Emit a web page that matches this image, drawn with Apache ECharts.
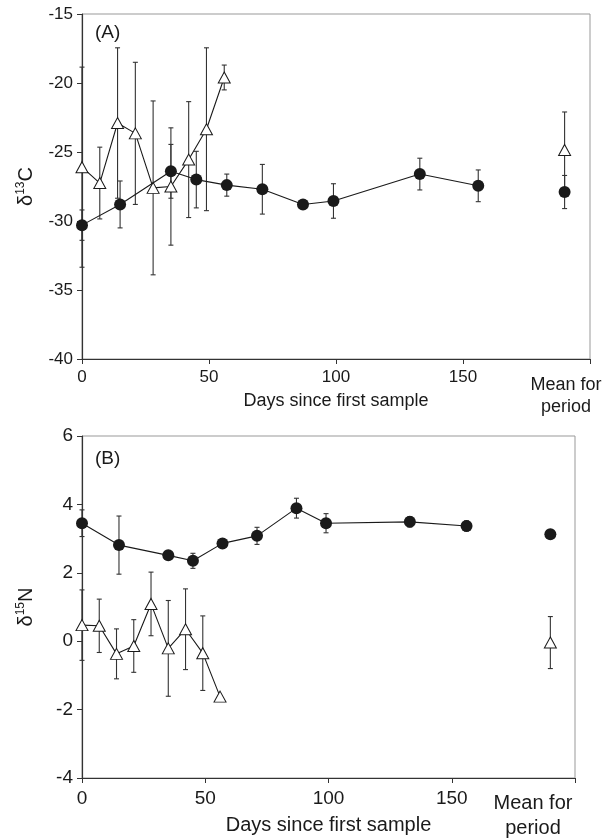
<!DOCTYPE html>
<html>
<head>
<meta charset="utf-8">
<script src="https://cdn.jsdelivr.net/npm/echarts@6/dist/echarts.min.js"></script>
<style>
  html, body { margin: 0; padding: 0; background: #fff; }
  #main { width: 612px; height: 839px; }
</style>
</head>
<body>
<div id="main"></div>
<script>
// days of sampling
var daysCircle = [0, 15, 35, 45, 57, 71, 87, 99, 133, 156];
var daysTri = [0, 7, 14, 21, 28, 35, 42, 49, 56];
var meanDay = 190;

// panel A, d13C
var carbonCircle = [-30.3, -28.8, -26.4, -27.0, -27.4, -27.7, -28.8, -28.55, -26.6, -27.45];
var carbonCircleErr = [1.1, 1.7, 1.95, 2.05, 0.8, 1.8, 0, 1.25, 1.15, 1.15];
var carbonTri = [-26.1, -27.25, -22.9, -23.65, -27.6, -27.5, -25.55, -23.35, -19.6];
var carbonTriErr = [7.25, 2.6, 5.45, 5.15, 6.3, 4.25, 4.2, 5.9, 0.9];
var carbonMeanCircle = [-27.9, 1.2];
var carbonMeanTri = [-24.85, 2.75];

// panel B, d15N
var nitroCircle = [3.45, 2.81, 2.51, 2.35, 2.86, 3.08, 3.89, 3.45, 3.49, 3.37];
var nitroCircleErr = [0.39, 0.85, 0, 0.22, 0, 0.25, 0.29, 0.28, 0.15, 0.15];
var nitroTri = [0.47, 0.45, -0.37, -0.14, 1.09, -0.21, 0.35, -0.35, -1.62];
var nitroTriErr = [1.03, 0.78, 0.73, 0.77, 0.93, 1.4, 1.18, 1.09, 0];
var nitroMeanCircle = [3.13, 0.1];
var nitroMeanTri = [-0.04, 0.76];

var FONT = 'Liberation Sans, Arial, sans-serif';
var INK = '#1a1a1a';

function pairs(xs, ys) {
  return xs.map(function (x, i) { return [x, ys[i]]; });
}
function errData(xs, ys, es) {
  var out = [];
  xs.forEach(function (x, i) {
    if (es[i] > 0) out.push([x, ys[i] - es[i], ys[i] + es[i]]);
  });
  return out;
}

function renderErr(params, api) {
  var hi = api.coord([api.value(0), api.value(2)]);
  var lo = api.coord([api.value(0), api.value(1)]);
  var w = 2.5;
  var st = { stroke: '#333', lineWidth: 1.1 };
  return {
    type: 'group',
    children: [
      { type: 'line', shape: { x1: hi[0], y1: hi[1], x2: lo[0], y2: lo[1] }, style: st },
      { type: 'line', shape: { x1: hi[0] - w, y1: hi[1], x2: hi[0] + w, y2: hi[1] }, style: st },
      { type: 'line', shape: { x1: lo[0] - w, y1: lo[1], x2: lo[0] + w, y2: lo[1] }, style: st }
    ]
  };
}

function errSeries(idx, data) {
  return {
    type: 'custom', xAxisIndex: idx, yAxisIndex: idx,
    renderItem: renderErr, data: data, z: 1,
    encode: { x: 0, y: [1, 2] }, silent: true
  };
}

var circleStyle = { color: INK, opacity: 1 };
var triStyle = { color: '#fff', borderColor: INK, borderWidth: 1, opacity: 1 };

function panelSeries(idx, yc, ec, yt, et, mc, mt) {
  return [
    errSeries(idx, errData(daysCircle, yc, ec)
      .concat(errData(daysTri, yt, et))
      .concat(errData([meanDay], [mc[0]], [mc[1]]))
      .concat(errData([meanDay], [mt[0]], [mt[1]]))),
    {
      type: 'line', xAxisIndex: idx, yAxisIndex: idx, data: pairs(daysTri, yt),
      symbol: 'triangle', symbolSize: [12, 11], itemStyle: triStyle,
      lineStyle: { color: INK, width: 1.1 }, z: 2
    },
    {
      type: 'line', xAxisIndex: idx, yAxisIndex: idx, data: pairs(daysCircle, yc),
      symbol: 'circle', symbolSize: 12, itemStyle: circleStyle,
      lineStyle: { color: INK, width: 1.1 }, z: 3
    },
    {
      type: 'scatter', xAxisIndex: idx, yAxisIndex: idx, data: [[meanDay, mt[0]]],
      symbol: 'triangle', symbolSize: [12, 11], itemStyle: triStyle, z: 2
    },
    {
      type: 'scatter', xAxisIndex: idx, yAxisIndex: idx, data: [[meanDay, mc[0]]],
      symbol: 'circle', symbolSize: 12, itemStyle: circleStyle, z: 3
    }
  ];
}

function xAxisCfg(idx, fs, nfs, gap, lblMargin) {
  return {
    type: 'value', gridIndex: idx, min: 0, max: 200, interval: 50,
    name: 'Days since first sample', nameLocation: 'middle', nameGap: gap,
    nameTextStyle: { fontFamily: FONT, fontSize: nfs, color: INK },
    axisLine: { onZero: false, lineStyle: { color: '#333', width: 1.2 } },
    axisTick: { length: 5, lineStyle: { color: '#333' } },
    axisLabel: {
      fontFamily: FONT, fontSize: fs, color: INK, margin: lblMargin,
      formatter: function (v) { return v === 200 ? '' : String(v); }
    },
    splitLine: { show: false }
  };
}

function yAxisCfg(idx, min, max, step, fs, nameRich, gap) {
  return {
    type: 'value', gridIndex: idx, min: min, max: max, interval: step,
    name: nameRich.text, nameLocation: 'middle', nameGap: gap, nameRotate: 90,
    nameTextStyle: { fontFamily: FONT, color: INK, rich: nameRich.rich },
    axisLine: { onZero: false, lineStyle: { color: '#333', width: 1.2 } },
    axisTick: { length: 5, lineStyle: { color: '#333' } },
    axisLabel: { fontFamily: FONT, fontSize: fs, color: INK, margin: 9 },
    splitLine: { show: false }
  };
}

function deltaName(iso, el, size) {
  return {
    text: '{d|δ}{s|' + iso + '}{d|' + el + '}',
    rich: {
      d: { fontFamily: FONT, fontSize: size, color: INK, lineHeight: size + 2 },
      s: { fontFamily: FONT, fontSize: Math.round(size * 0.6), color: INK, verticalAlign: 'top', lineHeight: Math.round(size * 0.6) }
    }
  };
}

var chart = echarts.init(document.getElementById('main'));
var option = {
  animation: false,
  backgroundColor: '#fff',
  grid: [
    { left: 82, top: 14, width: 508, height: 345, show: true, borderColor: '#999', borderWidth: 1 },
    { left: 82, top: 436, width: 493, height: 342, show: true, borderColor: '#999', borderWidth: 1 }
  ],
  xAxis: [
    xAxisCfg(0, 17, 18, 33, 10),
    xAxisCfg(1, 19, 20, 37, 11)
  ],
  yAxis: [
    yAxisCfg(0, -40, -15, 5, 17, deltaName('13', 'C', 20), 45),
    yAxisCfg(1, -4, 6, 2, 19, deltaName('15', 'N', 20), 45)
  ],
  graphic: [
    { type: 'text', left: 95, top: 23, style: { text: '(A)', font: '19px ' + FONT, fill: INK } },
    { type: 'text', left: 95, top: 449, style: { text: '(B)', font: '19px ' + FONT, fill: INK } },
    { type: 'text', x: 566, y: 374, style: { text: 'Mean for\nperiod', font: '18px ' + FONT, fill: INK, align: 'center', lineHeight: 22 } },
    { type: 'text', x: 533, y: 791, style: { text: 'Mean for\nperiod', font: '20px ' + FONT, fill: INK, align: 'center', lineHeight: 25 } }
  ],
  series: []
    .concat(panelSeries(0, carbonCircle, carbonCircleErr, carbonTri, carbonTriErr, carbonMeanCircle, carbonMeanTri))
    .concat(panelSeries(1, nitroCircle, nitroCircleErr, nitroTri, nitroTriErr, nitroMeanCircle, nitroMeanTri))
};
chart.setOption(option);
</script>
</body>
</html>
